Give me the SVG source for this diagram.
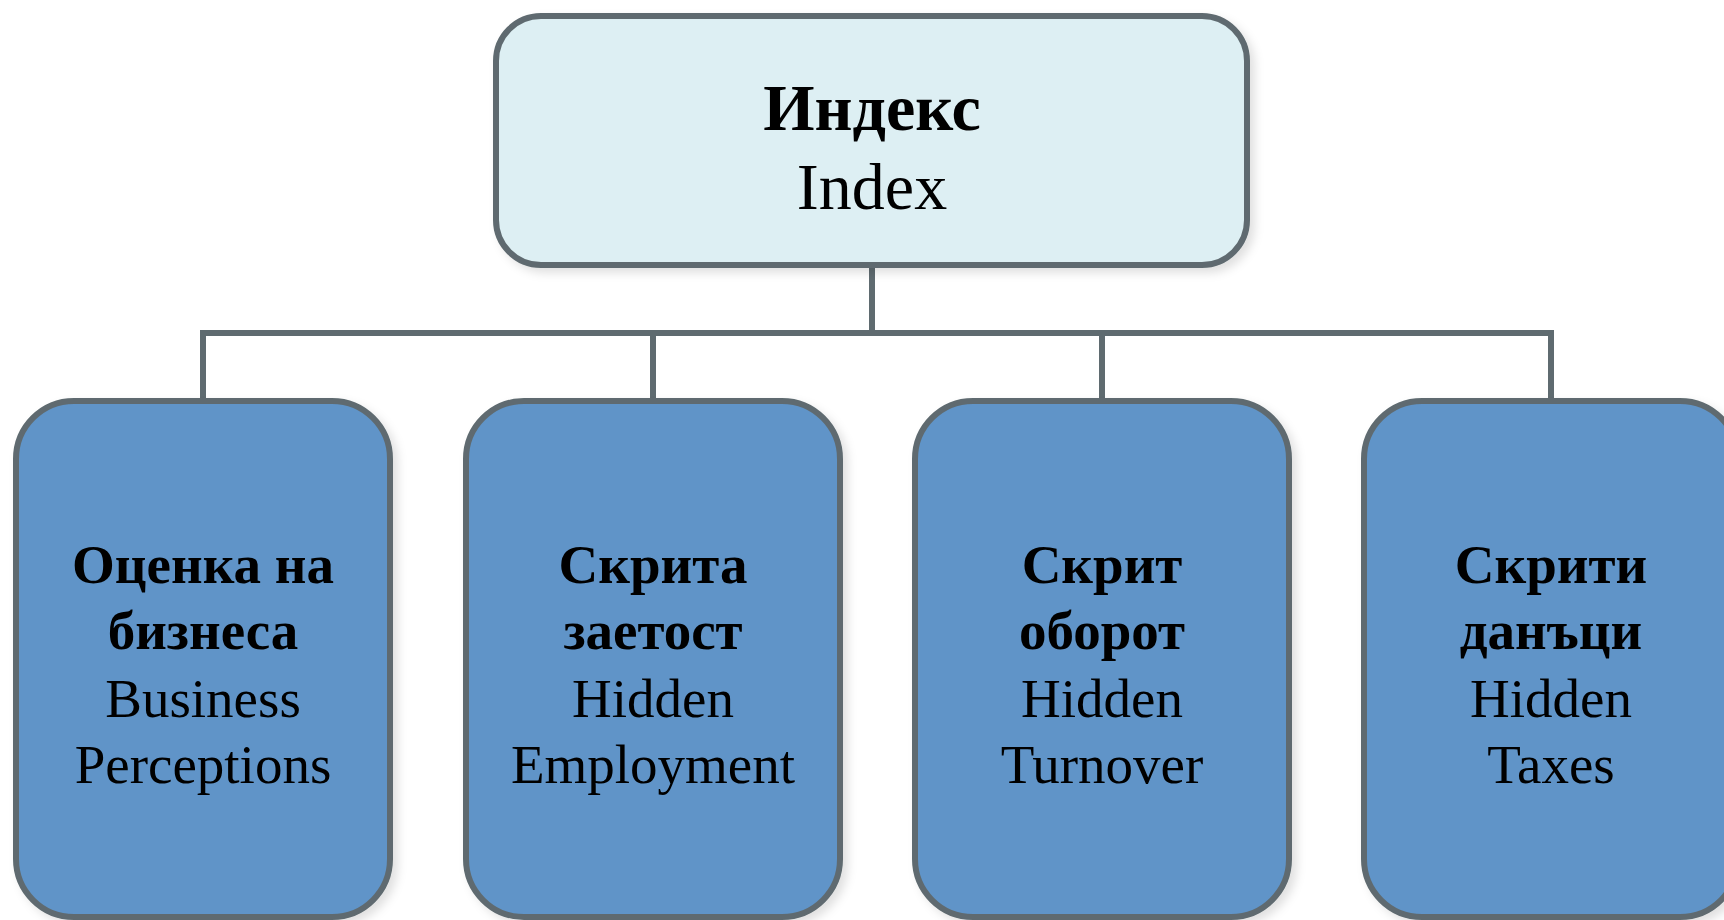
<svg xmlns="http://www.w3.org/2000/svg" width="1724" height="920" viewBox="0 0 1724 920">
<defs>
<filter id="sh" x="-10%" y="-10%" width="130%" height="130%">
<feDropShadow dx="5" dy="5" stdDeviation="5" flood-color="#000" flood-opacity="0.12"/>
</filter>
<style>
.box{stroke:#5F6B70;stroke-width:6;filter:url(#sh)}
.top{fill:#DDEFF3}
.child{fill:#6094C8}
.conn{fill:none;stroke:#5F6B70;stroke-width:6}
text{font-family:"Liberation Serif","Times New Roman",serif;fill:#000;text-anchor:middle}
.b{font-weight:bold}
.t{font-size:66px}
.c{font-size:55px}
</style>
</defs>
<rect width="1724" height="920" fill="#fff"/>
<g id="connectors">
<path class="conn" d="M872,266 V333 M203,401 V333 H1551 V401 M653,333 V401 M1102,333 V401"/>
</g>
<g id="node-index">
<rect class="box top" x="496" y="16" width="751" height="249" rx="45" ry="45"/>
<text class="t b" x="872" y="130">Индекс</text>
<text class="t" x="872" y="209">Index</text>
</g>
<g id="node-business">
<rect class="box child" x="16" y="401" width="374" height="516" rx="58" ry="58"/>
<text class="c b" x="203" y="583">Оценка на</text>
<text class="c b" x="203" y="649">бизнеса</text>
<text class="c" x="203" y="717">Business</text>
<text class="c" x="203" y="783">Perceptions</text>
</g>
<g id="node-employment">
<rect class="box child" x="466" y="401" width="374" height="516" rx="58" ry="58"/>
<text class="c b" x="653" y="583">Скрита</text>
<text class="c b" x="653" y="649">заетост</text>
<text class="c" x="653" y="717">Hidden</text>
<text class="c" x="653" y="783">Employment</text>
</g>
<g id="node-turnover">
<rect class="box child" x="915" y="401" width="374" height="516" rx="58" ry="58"/>
<text class="c b" x="1102" y="583">Скрит</text>
<text class="c b" x="1102" y="649">оборот</text>
<text class="c" x="1102" y="717">Hidden</text>
<text class="c" x="1102" y="783">Turnover</text>
</g>
<g id="node-taxes">
<rect class="box child" x="1364" y="401" width="374" height="516" rx="58" ry="58"/>
<text class="c b" x="1551" y="583">Скрити</text>
<text class="c b" x="1551" y="649">данъци</text>
<text class="c" x="1551" y="717">Hidden</text>
<text class="c" x="1551" y="783">Taxes</text>
</g>
</svg>
